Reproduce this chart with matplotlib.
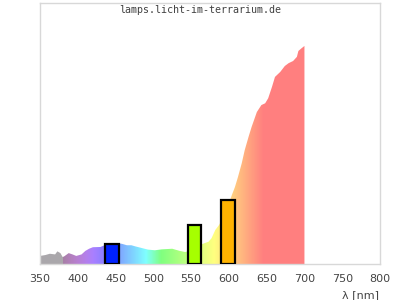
import numpy as np
import matplotlib
matplotlib.use("Agg")
import matplotlib.pyplot as plt

# espectro medido (nm, intensidad relativa)
longitudes = [350, 357, 363, 370, 373, 377, 380, 382, 388, 393, 398, 405, 410, 415,
              420, 430, 438, 452, 458, 465, 471, 476, 485, 493, 502, 511, 525, 535,
              542, 553, 565, 573, 577, 582, 587, 595, 604, 608, 612, 617, 621, 626,
              630, 637, 643, 648, 652, 657, 661, 668, 674, 679, 685, 690, 692, 696, 700]
intensidad = [0.037, 0.041, 0.047, 0.044, 0.058, 0.050, 0.032, 0.035, 0.050, 0.044,
              0.037, 0.044, 0.060, 0.070, 0.077, 0.078, 0.090, 0.093, 0.093, 0.086,
              0.086, 0.081, 0.073, 0.066, 0.063, 0.067, 0.070, 0.060, 0.055, 0.064,
              0.092, 0.102, 0.118, 0.156, 0.179, 0.229, 0.317, 0.353, 0.399, 0.462,
              0.523, 0.583, 0.628, 0.697, 0.729, 0.737, 0.760, 0.812, 0.858, 0.881,
              0.908, 0.921, 0.931, 0.950, 0.977, 0.989, 1.0]

# barras de los LEDs
centros_barras = [445, 554.5, 599]
alturas_barras = [0.090, 0.178, 0.294]
colores_barras = ['#0022ff', '#a6ff00', '#ffb300']

Y_MAX = 1.197


def color_longitud(wl):
    # Bruton, mezclado al 50% con blanco
    if wl < 380:
        return (0.667, 0.655, 0.671)
    if wl < 440:
        r, g, b = -(wl - 440) / 60, 0.0, 1.0
    elif wl < 490:
        r, g, b = 0.0, (wl - 440) / 50, 1.0
    elif wl < 510:
        r, g, b = 0.0, 1.0, -(wl - 510) / 20
    elif wl < 580:
        r, g, b = (wl - 510) / 70, 1.0, 0.0
    elif wl < 645:
        r, g, b = 1.0, -(wl - 645) / 65, 0.0
    else:
        r, g, b = 1.0, 0.0, 0.0
    f = 0.3 + 0.7 * (wl - 380) / 40 if wl < 420 else 1.0
    return tuple(0.5 + 0.5 * c * f for c in (r, g, b))


fig = plt.figure(figsize=(4, 3), dpi=100)
ax = fig.add_axes([0.1, 0.12, 0.85, 0.87])

relleno = ax.fill_between(longitudes, 0, intensidad, color='none', lw=0)
wl_grid = np.arange(350, 700.5, 0.5)
gradiente = np.array([[color_longitud(w) for w in wl_grid]])
img = ax.imshow(gradiente, extent=[350, 700, 0, Y_MAX], aspect='auto',
                origin='lower', interpolation='nearest', zorder=1)
img.set_clip_path(relleno.get_paths()[0], transform=ax.transData)

ax.bar(centros_barras, alturas_barras, width=18, color=colores_barras,
       edgecolor='black', linewidth=1.6, zorder=3)

ax.set_xlim(350, 800)
ax.set_ylim(0, Y_MAX)
ax.set_xticks(range(350, 801, 50))
ax.set_yticks([])
ax.tick_params(axis='x', length=0, pad=7.5, labelsize=8, labelcolor='#444444')
for s in ax.spines.values():
    s.set_color('#d8d8d8')
    s.set_linewidth(1)

fig.text(0.5, 0.967, 'lamps.licht-im-terrarium.de', family='DejaVu Sans Mono',
         fontsize=7.2, color='#404040', ha='center', va='center')
fig.text(0.948, 0.017, 'λ [nm]', fontsize=8, color='#444444', ha='right', va='center')

fig.savefig('out.png', dpi=100)
